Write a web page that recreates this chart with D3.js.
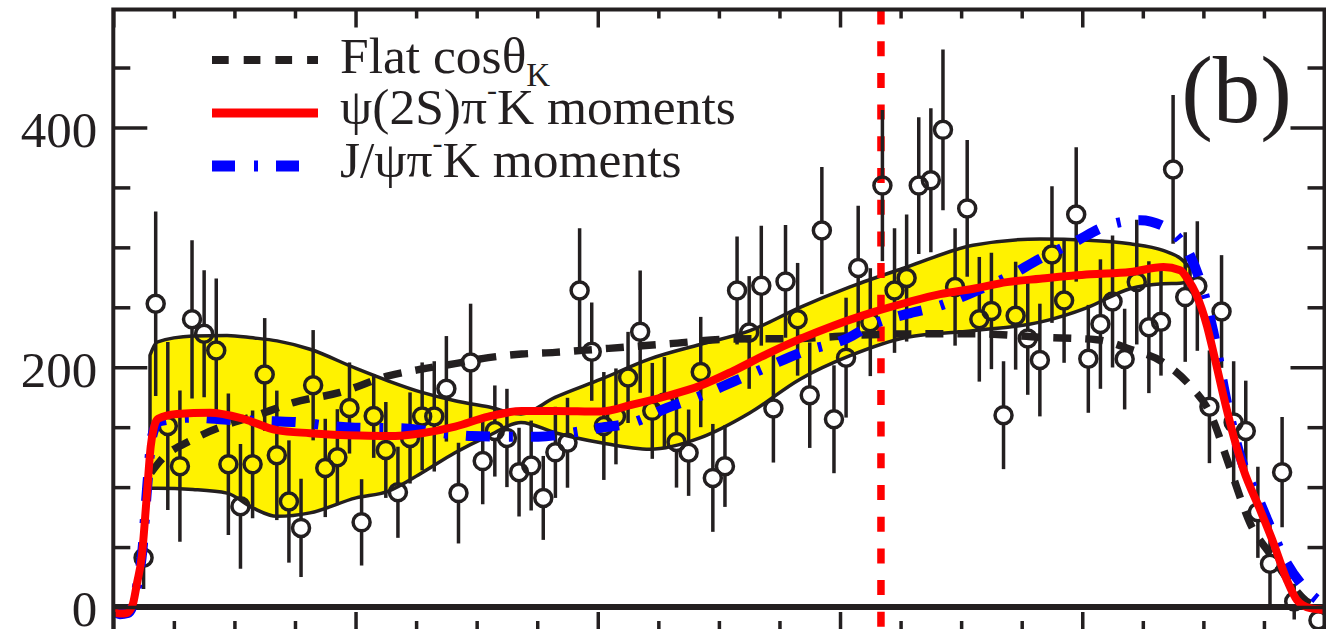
<!DOCTYPE html>
<html>
<head>
<meta charset="utf-8">
<title>Flat cos theta K vs moments</title>
<script src="https://d3js.org/d3.v7.min.js"></script>
<style>
body { margin: 0; background: #fff; }
svg text { font-family: "Liberation Serif", "Times New Roman", serif; fill: #231f20; }
</style>
</head>
<body>
<div id="chart"></div>
<script>
// histogram: 100 bins of width 0.1 starting at 14.0 (null = no point drawn)
var binStart = 14.0, binWidth = 0.1;
var counts = [null, null, 41, 253, 151, 117.5, 240, 228, 214, 119,
  84, 119, 194, 126.5, 88, 66, 185, 116, 125, 166,
  70.6, 159.4, 131, 95.7, 141, 159, 159, 182, 95, 204,
  121.7, 146.8, 141, 112.5, 118, 91, 129, 137, 264, 213,
  151, 159, 191.5, 229.7, 163.6, 170.5, 137.6, 128.7, 196, 107.7,
  117.5, 264, 229, 268, 165.5, 271.6, 240, 176.7, 314, 156.6,
  208, 282.8, 237.6, 351.5, 264, 274.4, 351.5, 356, 398, 267,
  332.5, 240, 247, 160, 243, 224, 206, 294, 255.7, 327.4,
  207, 236, 254.8, 206.8, 271, 233.4, 238, 365, 258.5, 267.7,
  167, 246.5, 154, 146.8, 79, 36, 112.5, 4.5, null, -11];
var errors = [null, null, 26, 77, 70, 63, 66, 53, 60, 59,
  52, 45, 47, 54, 51, 41, 46, 41, 40, 38,
  36, 35, 40, 38, 38, 45, 46, 44, 42, 49,
  36, 38, 41, 37, 37.5, 35, 38, 37.5, 52, 41,
  45, 40, 38, 51, 40, 38, 38, 36, 46, 45,
  34, 45, 47, 50, 45, 47, 47, 44, 53, 45,
  50, 52, 45, 63, 52, 53, 57, 60, 67, 49,
  57, 52, 48.6, 45, 45, 47, 47, 57, 52, 56,
  45, 54, 55, 42, 52, 55, 45, 62, 54, 54,
  47, 47, 51, 42, 38, 36, 46, 15, null, 5];

// yellow uncertainty band
var bandX  = [14.303, 14.361, 14.658, 14.939, 15.153, 15.352, 15.624, 16.004, 16.268, 16.549,
  16.821, 17.094, 17.366, 17.647, 18.027, 18.431, 18.844, 19.257, 19.670, 20.083,
  20.553, 21.098, 21.651, 22.047, 22.394, 22.667, 22.807, 22.890];
var bandHi = [210, 221, 226, 226.5, 224.5, 222, 215, 199, 188.7, 179,
  172, 167, 161, 174.8, 190, 207, 219, 230.5, 250, 267,
  283.6, 301.7, 307, 306, 303, 297.5, 291, 283];
var bandLo = [99, 99, 98, 95, 82.6, 75.6, 78.5, 91, 96.5, 112,
  128.7, 142.6, 154, 145.4, 137, 131.5, 141, 162, 190, 209.6,
  225, 230.5, 237.6, 250, 265.5, 269.6, 270, 272];

// psi(2S) pi- K moments (red)
var redX = [14.0, 14.055, 14.113, 14.163, 14.196, 14.235, 14.276, 14.309, 14.336, 14.369,
  14.524, 14.799, 15.073, 15.349, 15.624, 16.037, 16.271, 16.547, 16.822, 17.097,
  17.372, 17.647, 18.019, 18.294, 18.570, 18.845, 19.120, 19.395, 19.670, 19.945,
  20.276, 20.552, 20.827, 21.101, 21.377, 21.652, 22.065, 22.396, 22.670, 22.808,
  22.874, 22.940, 23.029, 23.083, 23.166, 23.249, 23.331, 23.469, 23.579, 23.689,
  23.772, 23.882, 24.0];
var redY = [-4, -5.5, -5, 3, 20, 42, 92, 134, 150, 157,
  161, 162, 157, 147.5, 145, 143, 142.6, 145, 150.5, 158.8,
  163.5, 163.5, 163, 169, 176, 184.5, 197, 211, 223.6, 234.7,
  246, 254, 261, 265.5, 271, 273.8, 277.5, 279.4, 283.6, 281,
  273, 261, 234.7, 212.4, 176, 142.6, 114.7, 81, 53.3, 22.6,
  5.9, -1, -2.5];

// J/psi pi- K moments (blue)
var blueX = [14.0, 14.055, 14.121, 14.171, 14.204, 14.241, 14.278, 14.311, 14.344, 14.386,
  14.658, 14.964, 15.319, 15.542, 15.790, 15.996, 16.409, 16.684, 16.960, 17.235,
  17.509, 17.785, 18.019, 18.294, 18.570, 18.845, 19.120, 19.395, 19.670, 20.056,
  20.276, 20.552, 20.827, 21.101, 21.377, 21.652, 21.927, 22.203, 22.478, 22.698,
  22.808, 22.891, 23.001, 23.083, 23.194, 23.304, 23.469, 23.689, 23.826, 23.963, 24.0];
var blueY = [-3, -6, -5, 5, 22, 48, 98, 136, 150, 155,
  158, 156, 155, 154, 151, 149.6, 149, 145.4, 142.6, 142,
  142, 145.4, 149.5, 154, 166, 176, 188, 200, 212, 224,
  236, 244.5, 251.5, 262.7, 275, 290.6, 304, 318, 322.7, 316,
  306, 293, 262.7, 229, 170.5, 126, 86.8, 36.6, 17, 4.4, 2];

// flat cos(theta_K) (black dashed)
var flatX = [14.311, 14.386, 14.661, 14.936, 15.211, 15.486, 15.872, 16.271, 16.547, 16.822,
  17.097, 17.372, 17.647, 18.019, 18.570, 19.120, 19.670, 20.083, 20.552, 21.101,
  21.652, 22.120, 22.396, 22.670, 22.891, 23.054, 23.220, 23.385, 23.567, 23.732,
  23.864, 23.963];
var flatY = [112, 121.7, 140, 152, 160.8, 170.5, 179, 192.8, 198.5, 203,
  208, 211, 212.4, 215.2, 219.4, 223.6, 224, 226.4, 227.8, 228,
  225, 223, 215, 204, 184.5, 162, 116, 70, 42, 18,
  4, 0];

var markerX = 20.338;
var xMajor = [14, 16, 18, 20, 22, 24];
var xMinor = [14.5, 15, 15.5, 16.5, 17, 17.5, 18.5, 19, 19.5, 20.5, 21, 21.5, 22.5, 23, 23.5];
var yMajor = [0, 200, 400];
var yMinor = [50, 100, 150, 250, 300, 350, 450];

var ink = "#231f20";
var pL = 113.3, pR = 1324.5, pT = 9.5, pB = 632;

var svg = d3.select("#chart").append("svg")
  .attr("width", 1326)
  .attr("height", 629);

var x = d3.scaleLinear().domain([14, 24]).range([pL, pR]);
var y = d3.scaleLinear().domain([-20.85, 498.4]).range([pB, pT]);

svg.append("defs").append("clipPath").attr("id", "clip")
  .append("rect")
  .attr("x", pL).attr("y", pT)
  .attr("width", pR - pL).attr("height", pB - pT);

var plot = svg.append("g").attr("clip-path", "url(#clip)");

// band
var idx = d3.range(bandX.length);
plot.append("path")
  .datum(idx)
  .attr("d", d3.area()
    .x(function(i) { return x(bandX[i]); })
    .y0(function(i) { return y(bandLo[i]); })
    .y1(function(i) { return y(bandHi[i]); })
    .curve(d3.curveMonotoneX))
  .attr("fill", "#fff200")
  .attr("stroke", ink)
  .attr("stroke-width", 3.5);

// vertical marker
plot.append("line")
  .attr("x1", x(markerX)).attr("x2", x(markerX))
  .attr("y1", pT).attr("y2", pB)
  .attr("stroke", "#ff0000")
  .attr("stroke-width", 7.5)
  .attr("stroke-dasharray", "15,16.7");

// zero line
plot.append("line")
  .attr("x1", pL).attr("x2", pR)
  .attr("y1", y(0)).attr("y2", y(0))
  .attr("stroke", ink)
  .attr("stroke-width", 6);

// data points with error bars
var pts = [];
counts.forEach(function(c, k) {
  if (c !== null) pts.push({x: binStart + binWidth * (k + 0.5), v: c, e: errors[k]});
});
var r = 8.5;
var pg = plot.append("g").attr("stroke", ink).attr("stroke-width", 3.5);
pts.forEach(function(p) {
  var cx = x(p.x), cy = y(p.v);
  var yt = y(p.v + p.e), yb = y(p.v - p.e);
  if (cy - r > yt) pg.append("line").attr("x1", cx).attr("x2", cx).attr("y1", yt).attr("y2", cy - r);
  if (cy + r < yb) pg.append("line").attr("x1", cx).attr("x2", cx).attr("y1", cy + r).attr("y2", yb);
  pg.append("circle").attr("cx", cx).attr("cy", cy).attr("r", r).attr("fill", "none");
});

function curve(xs, ys) {
  return d3.line()
    .x(function(i) { return x(xs[i]); })
    .y(function(i) { return y(ys[i]); })
    .curve(d3.curveMonotoneX)(d3.range(xs.length));
}

plot.append("path")
  .attr("d", curve(flatX, flatY))
  .attr("fill", "none").attr("stroke", ink)
  .attr("stroke-width", 7.5)
  .attr("stroke-dasharray", "18,14");

plot.append("path")
  .attr("d", curve(blueX, blueY))
  .attr("fill", "none").attr("stroke", "#0000ff")
  .attr("stroke-width", 10)
  .attr("stroke-dasharray", "24,19,4,18");

plot.append("path")
  .attr("d", curve(redX, redY))
  .attr("fill", "none").attr("stroke", "#ff0000")
  .attr("stroke-width", 8);

// axes (ticks point inwards)
function styleAxis(g) {
  g.select(".domain").remove();
  g.selectAll(".tick line").attr("stroke", ink).attr("stroke-width", 3.5);
}
svg.append("g").attr("transform", "translate(" + pL + ",0)")
  .call(d3.axisLeft(y).tickValues(yMajor).tickSize(-34).tickPadding(16).tickFormat(d3.format("d")))
  .call(styleAxis)
  .selectAll("text")
  .attr("font-size", "51px")
  .attr("font-family", "Liberation Serif, Times New Roman, serif")
  .attr("fill", ink)
  .attr("dy", "0.37em");
svg.append("g").attr("transform", "translate(" + pL + ",0)")
  .call(d3.axisLeft(y).tickValues(yMinor).tickSize(-17).tickFormat(""))
  .call(styleAxis);
svg.append("g").attr("transform", "translate(" + pR + ",0)")
  .call(d3.axisRight(y).tickValues(yMajor).tickSize(-34).tickFormat(""))
  .call(styleAxis);
svg.append("g").attr("transform", "translate(" + pR + ",0)")
  .call(d3.axisRight(y).tickValues(yMinor).tickSize(-17).tickFormat(""))
  .call(styleAxis);
svg.append("g").attr("transform", "translate(0," + pT + ")")
  .call(d3.axisTop(x).tickValues(xMajor).tickSize(-18).tickFormat(""))
  .call(styleAxis);
svg.append("g").attr("transform", "translate(0," + pT + ")")
  .call(d3.axisTop(x).tickValues(xMinor).tickSize(-9).tickFormat(""))
  .call(styleAxis);
svg.append("g").attr("transform", "translate(0," + pB + ")")
  .call(d3.axisBottom(x).tickValues(xMajor).tickSize(-20).tickFormat(""))
  .call(styleAxis);
svg.append("g").attr("transform", "translate(0," + pB + ")")
  .call(d3.axisBottom(x).tickValues(xMinor).tickSize(-11).tickFormat(""))
  .call(styleAxis);

// frame
svg.append("rect")
  .attr("x", pL).attr("y", pT)
  .attr("width", pR - pL).attr("height", pB - pT)
  .attr("fill", "none").attr("stroke", ink).attr("stroke-width", 4);

// legend
var leg = svg.append("g");
leg.append("line").attr("x1", 212).attr("x2", 318).attr("y1", 60).attr("y2", 60)
  .attr("stroke", ink).attr("stroke-width", 8).attr("stroke-dasharray", "16.7,15");
leg.append("line").attr("x1", 212).attr("x2", 318).attr("y1", 113).attr("y2", 113)
  .attr("stroke", "#ff0000").attr("stroke-width", 9);
leg.append("line").attr("x1", 212).attr("x2", 302).attr("y1", 166).attr("y2", 166)
  .attr("stroke", "#0000ff").attr("stroke-width", 11).attr("stroke-dasharray", "23,19,4,18");

var t1 = leg.append("text").attr("x", 340).attr("y", 73).attr("font-size", "51.5px");
t1.append("tspan").text("Flat cos\u03b8");
t1.append("tspan").attr("font-size", "33px").attr("dy", 13).text("K");

var t2 = leg.append("text").attr("x", 340).attr("y", 124).attr("font-size", "51.5px");
t2.append("tspan").text("\u03c8(2S)\u03c0");
t2.append("tspan").attr("font-size", "30px").attr("dy", -24).text("-");
t2.append("tspan").attr("dy", 24).text("K moments");

var t3 = leg.append("text").attr("x", 340).attr("y", 177).attr("font-size", "51.5px");
t3.append("tspan").text("J/\u03c8\u03c0");
t3.append("tspan").attr("font-size", "30px").attr("dy", -24).text("-");
t3.append("tspan").attr("dy", 24).text("K moments");

svg.append("text")
  .attr("x", 1292).attr("y", 122)
  .attr("text-anchor", "end")
  .attr("font-size", "95px")
  .text("(b)");
</script>
</body>
</html>
